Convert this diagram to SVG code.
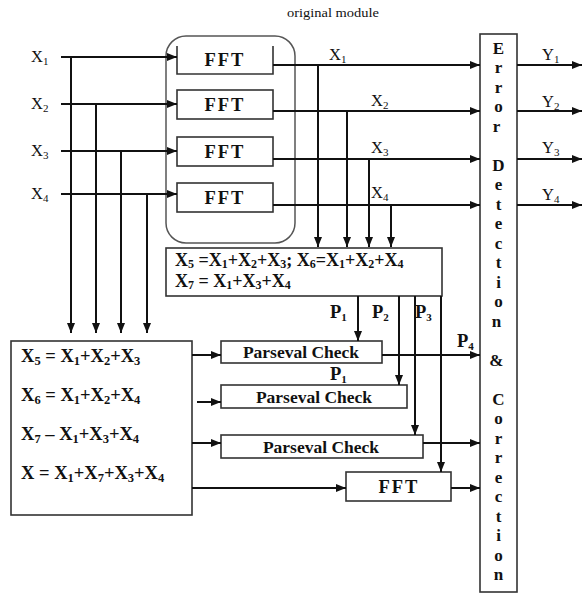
<svg xmlns="http://www.w3.org/2000/svg" width="582" height="593" viewBox="0 0 582 593">
<style>
.ln{stroke:#111;stroke-width:2;fill:none}
.box{fill:#fff;stroke:#333;stroke-width:1.6}
.t{font-family:"Liberation Serif","Times New Roman",serif;fill:#111}
.b{font-weight:bold}
.s{font-size:11px}
.f{font-size:18.5px}
.f .s{font-size:12.5px}
.g{font-size:18px}
.g .s{font-size:12px}
</style>
<defs>
<marker id="ar" markerUnits="userSpaceOnUse" markerWidth="10" markerHeight="10" viewBox="0 0 10 10" refX="10" refY="5" orient="auto">
<path d="M0,1 L10,5 L0,9 Z" fill="#111"/>
</marker>
</defs>
<rect width="582" height="593" fill="#fff"/>
<text class="t" x="287" y="17" font-size="12" textLength="92" lengthAdjust="spacingAndGlyphs">original module</text>

<g id="inputs">
<text class="t" x="31" y="62" font-size="16.5">X<tspan class="s" baseline-shift="-3">1</tspan></text>
<text class="t" x="31" y="109" font-size="16.5">X<tspan class="s" baseline-shift="-3">2</tspan></text>
<text class="t" x="31" y="156" font-size="16.5">X<tspan class="s" baseline-shift="-3">3</tspan></text>
<text class="t" x="31" y="199" font-size="16.5">X<tspan class="s" baseline-shift="-3">4</tspan></text>
</g>

<g id="original-module">
<rect x="166" y="36" width="129" height="207" rx="20" fill="none" stroke="#555" stroke-width="1.5"/>
</g>
<g id="fft1"><path class="box" d="M177,46 V74 H273 V46" fill="#fff"/><text class="t b" x="225" y="66" font-size="18.5" text-anchor="middle" letter-spacing="2">FFT</text></g>
<g id="fft2"><rect class="box" x="177" y="90" width="96" height="29"/><text class="t b" x="225" y="111" font-size="18.5" text-anchor="middle" letter-spacing="2">FFT</text></g>
<g id="fft3"><rect class="box" x="177" y="137" width="96" height="29"/><text class="t b" x="225" y="158" font-size="18.5" text-anchor="middle" letter-spacing="2">FFT</text></g>
<g id="fft4"><rect class="box" x="177" y="183" width="96" height="29"/><text class="t b" x="225" y="204" font-size="18.5" text-anchor="middle" letter-spacing="2">FFT</text></g>

<g id="checksum-box">
<rect class="box" x="166" y="248" width="276" height="48"/>
<text class="t b g" x="175" y="266">X<tspan class="s" baseline-shift="-2">5</tspan> =X<tspan class="s" baseline-shift="-2">1</tspan>+X<tspan class="s" baseline-shift="-2">2</tspan>+X<tspan class="s" baseline-shift="-2">3</tspan>; X<tspan class="s" baseline-shift="-2">6</tspan>=X<tspan class="s" baseline-shift="-2">1</tspan>+X<tspan class="s" baseline-shift="-2">2</tspan>+X<tspan class="s" baseline-shift="-2">4</tspan></text>
<text class="t b g" x="175" y="287">X<tspan class="s" baseline-shift="-2">7</tspan> = X<tspan class="s" baseline-shift="-2">1</tspan>+X<tspan class="s" baseline-shift="-2">3</tspan>+X<tspan class="s" baseline-shift="-2">4</tspan></text>
</g>

<g id="left-box">
<rect class="box" x="11" y="341" width="181" height="174"/>
<text class="t b f" x="21" y="362">X<tspan class="s" baseline-shift="-3">5</tspan> = X<tspan class="s" baseline-shift="-3">1</tspan>+X<tspan class="s" baseline-shift="-3">2</tspan>+X<tspan class="s" baseline-shift="-3">3</tspan></text>
<text class="t b f" x="21" y="401">X<tspan class="s" baseline-shift="-3">6</tspan> = X<tspan class="s" baseline-shift="-3">1</tspan>+X<tspan class="s" baseline-shift="-3">2</tspan>+X<tspan class="s" baseline-shift="-3">4</tspan></text>
<text class="t b f" x="21" y="440">X<tspan class="s" baseline-shift="-3">7</tspan> – X<tspan class="s" baseline-shift="-3">1</tspan>+X<tspan class="s" baseline-shift="-3">3</tspan>+X<tspan class="s" baseline-shift="-3">4</tspan></text>
<text class="t b f" x="21" y="479">X = X<tspan class="s" baseline-shift="-3">1</tspan>+X<tspan class="s" baseline-shift="-3">7</tspan>+X<tspan class="s" baseline-shift="-3">3</tspan>+X<tspan class="s" baseline-shift="-3">4</tspan></text>
</g>

<g id="parseval1"><rect class="box" x="221" y="341" width="161" height="22"/><text class="t b" x="301" y="358" font-size="17.5" text-anchor="middle">Parseval Check</text></g>
<g id="parseval2"><rect class="box" x="221" y="385" width="186" height="23"/><text class="t b" x="314" y="403" font-size="17.5" text-anchor="middle">Parseval Check</text></g>
<g id="parseval3"><rect class="box" x="221" y="435" width="202" height="23"/><text class="t b" x="321" y="453" font-size="17.5" text-anchor="middle">Parseval Check</text></g>
<g id="fft5"><rect class="box" x="346" y="472" width="105" height="29"/><text class="t b" x="399" y="493" font-size="18.5" text-anchor="middle" letter-spacing="2">FFT</text></g>

<g id="edc">
<rect class="box" x="480" y="34" width="37" height="558"/>
<text class="t b" font-size="17" text-anchor="middle">
<tspan x="498.5" y="54">E</tspan><tspan x="498.5" y="73">r</tspan><tspan x="498.5" y="93">r</tspan><tspan x="498.5" y="112">o</tspan><tspan x="498.5" y="132">r</tspan>
<tspan x="498.5" y="171">D</tspan><tspan x="498.5" y="190">e</tspan><tspan x="498.5" y="210">t</tspan><tspan x="498.5" y="229">e</tspan><tspan x="498.5" y="249">c</tspan><tspan x="498.5" y="268">t</tspan><tspan x="498.5" y="288">i</tspan><tspan x="498.5" y="307">o</tspan><tspan x="498.5" y="327">n</tspan>
<tspan x="498.5" y="366">&amp;</tspan>
<tspan x="498.5" y="405">C</tspan><tspan x="498.5" y="424">o</tspan><tspan x="498.5" y="444">r</tspan><tspan x="498.5" y="463">r</tspan><tspan x="498.5" y="483">e</tspan><tspan x="498.5" y="502">c</tspan><tspan x="498.5" y="522">t</tspan><tspan x="498.5" y="541">i</tspan><tspan x="498.5" y="561">o</tspan><tspan x="498.5" y="580">n</tspan>
</text>
</g>

<g id="connectors">
<path class="ln" d="M61,57 H177" marker-end="url(#ar)"/>
<path class="ln" d="M61,104 H177" marker-end="url(#ar)"/>
<path class="ln" d="M61,151 H177" marker-end="url(#ar)"/>
<path class="ln" d="M61,194 H177" marker-end="url(#ar)"/>
<path class="ln" d="M71,57 V333" marker-end="url(#ar)"/>
<path class="ln" d="M96,104 V333" marker-end="url(#ar)"/>
<path class="ln" d="M121,151 V333" marker-end="url(#ar)"/>
<path class="ln" d="M147,194 V333" marker-end="url(#ar)"/>

<path class="ln" d="M273,65 H480" marker-end="url(#ar)"/>
<path class="ln" d="M273,111 H480" marker-end="url(#ar)"/>
<path class="ln" d="M273,159 H480" marker-end="url(#ar)"/>
<path class="ln" d="M273,205 H480" marker-end="url(#ar)"/>
<path class="ln" d="M318,65 V247" marker-end="url(#ar)"/>
<path class="ln" d="M347,111 V247" marker-end="url(#ar)"/>
<path class="ln" d="M369,159 V247" marker-end="url(#ar)"/>
<path class="ln" d="M391,205 V247" marker-end="url(#ar)"/>

<path class="ln" d="M517,65 H582" marker-end="url(#ar)"/>
<path class="ln" d="M517,111 H582" marker-end="url(#ar)"/>
<path class="ln" d="M517,159 H582" marker-end="url(#ar)"/>
<path class="ln" d="M517,205 H582" marker-end="url(#ar)"/>

<path class="ln" d="M358,296 V341" marker-end="url(#ar)"/>
<path class="ln" d="M399,296 V385" marker-end="url(#ar)"/>
<path class="ln" d="M415,296 V435" marker-end="url(#ar)"/>
<path class="ln" d="M441,296 V472" marker-end="url(#ar)"/>

<path class="ln" d="M192,355 H221" marker-end="url(#ar)"/>
<path class="ln" d="M197,402 H221" marker-end="url(#ar)"/>
<path class="ln" d="M192,443 H221" marker-end="url(#ar)"/>
<path class="ln" d="M192,488 H346" marker-end="url(#ar)"/>

<path class="ln" d="M382,355 H480" marker-end="url(#ar)"/>
<path class="ln" d="M423,443 H480" marker-end="url(#ar)"/>
<path class="ln" d="M451,488 H480" marker-end="url(#ar)"/>
</g>

<g id="labels">
<text class="t" x="329" y="60" font-size="16.5">X<tspan class="s" baseline-shift="-3">1</tspan></text>
<text class="t" x="371" y="106" font-size="16.5">X<tspan class="s" baseline-shift="-3">2</tspan></text>
<text class="t" x="371" y="153" font-size="16.5">X<tspan class="s" baseline-shift="-3">3</tspan></text>
<text class="t" x="371" y="198" font-size="16.5">X<tspan class="s" baseline-shift="-3">4</tspan></text>
<text class="t" x="542" y="60" font-size="16.5">Y<tspan class="s" baseline-shift="-3">1</tspan></text>
<text class="t" x="542" y="107" font-size="16.5">Y<tspan class="s" baseline-shift="-3">2</tspan></text>
<text class="t" x="542" y="153" font-size="16.5">Y<tspan class="s" baseline-shift="-3">3</tspan></text>
<text class="t" x="542" y="200" font-size="16.5">Y<tspan class="s" baseline-shift="-3">4</tspan></text>
<text class="t b" x="330" y="318" font-size="18.5">P<tspan class="s" baseline-shift="-3" font-size="12.5">1</tspan></text>
<text class="t b" x="372" y="318" font-size="18.5">P<tspan class="s" baseline-shift="-3" font-size="12.5">2</tspan></text>
<text class="t b" x="415" y="318" font-size="18.5">P<tspan class="s" baseline-shift="-3" font-size="12.5">3</tspan></text>
<text class="t b" x="457" y="347" font-size="18.5">P<tspan class="s" baseline-shift="-3" font-size="12.5">4</tspan></text>
<text class="t b" x="330" y="380" font-size="18.5">P<tspan class="s" baseline-shift="-3" font-size="12.5">1</tspan></text>
</g>
</svg>
